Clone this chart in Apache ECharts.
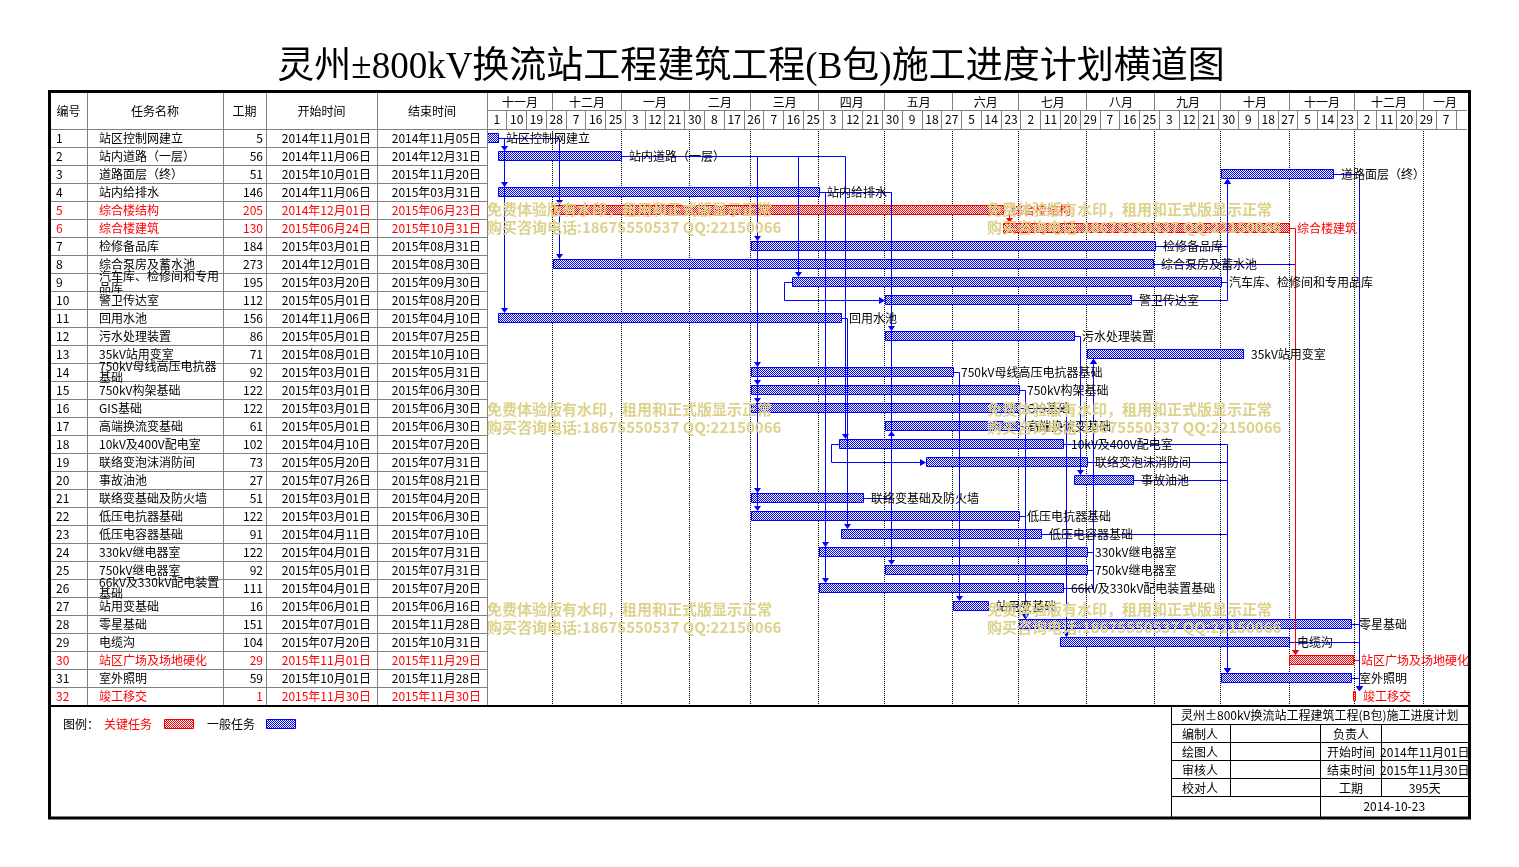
<!DOCTYPE html>
<html><head><meta charset="utf-8">
<script src="https://cdn.jsdelivr.net/npm/echarts@6/dist/echarts.min.js"></script>
<style>html,body{margin:0;padding:0;background:#fff}#c{width:1519px;height:867px}</style>
</head><body><div id="c"></div>
<script>
// ---------------- DATA ----------------
const chartTitle = '灵州±800kV换流站工程建筑工程(B包)施工进度计划横道图';
const taskIds = [1,2,3,4,5,6,7,8,9,10,11,12,13,14,15,16,17,18,19,20,21,22,23,24,25,26,27,28,29,30,31,32];
const taskNames = ['站区控制网建立','站内道路（一层）','道路面层（终）','站内给排水','综合楼结构','综合楼建筑','检修备品库','综合泵房及蓄水池','汽车库、检修间和专用品库','警卫传达室','回用水池','污水处理装置','35kV站用变室','750kV母线高压电抗器基础','750kV构架基础','GIS基础','高端换流变基础','10kV及400V配电室','联络变泡沫消防间','事故油池','联络变基础及防火墙','低压电抗器基础','低压电容器基础','330kV继电器室','750kV继电器室','66kV及330kV配电装置基础','站用变基础','零星基础','电缆沟','站区广场及场地硬化','室外照明','竣工移交'];
const durations = [5,56,51,146,205,130,184,273,195,112,156,86,71,92,122,122,61,102,73,27,51,122,91,122,92,111,16,151,104,29,59,1];
const startDates = ['2014-11-01','2014-11-06','2015-10-01','2014-11-06','2014-12-01','2015-06-24','2015-03-01','2014-12-01','2015-03-20','2015-05-01','2014-11-06','2015-05-01','2015-08-01','2015-03-01','2015-03-01','2015-03-01','2015-05-01','2015-04-10','2015-05-20','2015-07-26','2015-03-01','2015-03-01','2015-04-11','2015-04-01','2015-05-01','2015-04-01','2015-06-01','2015-07-01','2015-07-20','2015-11-01','2015-10-01','2015-11-30'];
const endDates = ['2014-11-05','2014-12-31','2015-11-20','2015-03-31','2015-06-23','2015-10-31','2015-08-31','2015-08-30','2015-09-30','2015-08-20','2015-04-10','2015-07-25','2015-10-10','2015-05-31','2015-06-30','2015-06-30','2015-06-30','2015-07-20','2015-07-31','2015-08-21','2015-04-20','2015-06-30','2015-07-10','2015-07-31','2015-07-31','2015-07-20','2015-06-16','2015-11-28','2015-10-31','2015-11-29','2015-11-28','2015-11-30'];
const criticalTasks = [5,6,30,32];
// finish-to-start links [pred, succ]
const fsLinks = [[30,32],[1,2],[1,4],[1,11],[1,5],[1,8],[2,7],[2,9],[2,14],[2,15],[2,16],[2,21],[2,22],[2,18],[4,24],[4,26],[4,12],[4,25],[11,23],[21,17],[8,30],[7,3],[9,3],[10,3],[18,31],[19,31],[20,31],[23,31],[12,20],[14,27],[15,28],[22,28],[27,28],[16,29],[17,29],[24,13],[25,13],[26,13],[3,32],[28,32],[29,32],[31,32],[5,6],[6,30]];
// start-to-start links [pred, succ]
const ssLinks = [[9,10],[18,19]];
const axisStartDate = '2014-11-01';
const axisEndDate = '2016-01-21';
const monthStarts = ['2014-11-01','2014-12-01','2015-01-01','2015-02-01','2015-03-01','2015-04-01','2015-05-01','2015-06-01','2015-07-01','2015-08-01','2015-09-01','2015-10-01','2015-11-01','2015-12-01','2016-01-01'];
const monthLabels = ['十一月','十二月','一月','二月','三月','四月','五月','六月','七月','八月','九月','十月','十一月','十二月','一月'];
const dayTickStep = 9;
const dayTickLabels = ['1','10','19','28','7','16','25','3','12','21','30','8','17','26','7','16','25','3','12','21','30','9','18','27','5','14','23','2','11','20','29','7','16','25','3','12','21','30','9','18','27','5','14','23','2','11','20','29','7'];
const tableHeaders = ['编号','任务名称','工期','开始时间','结束时间'];
const infoTitle = '灵州±800kV换流站工程建筑工程(B包)施工进度计划';
const infoRows = [['编制人','负责人',''],['绘图人','开始时间','2014年11月01日'],['审核人','结束时间','2015年11月30日'],['校对人','工期','395天']];
const infoDate = '2014-10-23';
const legendLabels = ['图例：','关键任务','一般任务'];
const watermarkLines = ['免费体验版有水印，租用和正式版显示正常','购买咨询电话:18675550537 QQ:22150066'];

// ---------------- HELPERS ----------------
const FONT = '"Noto Sans CJK SC","Noto Sans",sans-serif';
const BLUE = '#0000ff', RED = '#ff0000', GRAY = '#808080';
function dayIndex(s){
  const p = s.split('-').map(Number);
  return Math.round((Date.UTC(p[0],p[1]-1,p[2]) - Date.UTC(2014,10,1))/86400000);
}
function cn(s){ const p = s.split('-'); return p[0]+'年'+p[1]+'月'+p[2]+'日'; }
function px(v){ return Math.floor(v) + 0.5; }
function makePattern(color){
  const c = document.createElement('canvas'); c.width = 2; c.height = 2;
  const ctx = c.getContext('2d');
  ctx.fillStyle = '#ffffff'; ctx.fillRect(0,0,2,2);
  ctx.fillStyle = color; ctx.fillRect(0,0,1,1); ctx.fillRect(1,1,1,1);
  return {image: c, repeat: 'repeat'};
}
const bluePat = makePattern(BLUE), redPat = makePattern(RED);
const isCrit = id => criticalTasks.indexOf(id) >= 0;
const sDay = startDates.map(dayIndex);
const eDay = endDates.map(d => dayIndex(d) + 1);
const axisMin = dayIndex(axisStartDate), axisMax = dayIndex(axisEndDate);

// layout constants
const G_LEFT = 487, G_TOP = 129, G_W = 980, ROW_H = 18;
const G_H = ROW_H * taskIds.length;
const HDR_TOP = 93, HDR_MID = 110, HDR_BOT = 129;
const T_LEFT = 50, T_W = 437;
const colEdges = [37, 173, 216, 327];
const BAR_H = 9;

// ---------------- SERIES DATA ----------------
const taskData = taskIds.map((id,i) => [sDay[i], eDay[i], i, isCrit(id) ? 1 : 0]);
const linkData = [];
fsLinks.forEach(([p,s]) => linkData.push([sDay[p-1], eDay[p-1], p-1, sDay[s-1], s-1, (isCrit(p)&&isCrit(s))?1:0, 0]));
ssLinks.forEach(([p,s]) => linkData.push([sDay[p-1], eDay[p-1], p-1, sDay[s-1], s-1, (isCrit(p)&&isCrit(s))?1:0, 1]));
const monthData = monthStarts.map((m,i) => [dayIndex(m), i < monthStarts.length-1 ? dayIndex(monthStarts[i+1]) : axisMax, 0]);
const dayCells = dayTickLabels.map((l,i) => [axisMin + i*dayTickStep, Math.min(axisMin + (i+1)*dayTickStep, axisMax), 0]);
dayCells.push([axisMin + dayTickLabels.length*dayTickStep, axisMax, 0]);
const tableData = taskIds.map((id,i) => [0, i]);

const chart = echarts.init(document.getElementById('c'), null, {renderer:'canvas'});

const series = [
  {type:'custom', xAxisIndex:0, yAxisIndex:0, z:1, silent:true,
   data: monthData.slice(1).map(d => [d[0], d[0], 0]), encode:{x:[0,1], y:2},
   renderItem(params, api){
     const x = px(api.coord([api.value(0), 0])[0]);
     return {type:'line', shape:{x1:x, y1:G_TOP, x2:x, y2:G_TOP+G_H}, style:{stroke:'#000', lineWidth:1, lineDash:[1,1]}};
   }},
  {type:'custom', xAxisIndex:0, yAxisIndex:0, z:3, silent:true,
   data: monthData, encode:{x:[0,1], y:2},
   renderItem(params, api){
     const x0 = api.coord([api.value(0), 0])[0];
     const x1 = api.coord([api.value(1), 0])[0];
     const ch = [{type:'text', style:{text: monthLabels[params.dataIndex], x:(x0+x1)/2, y:(HDR_TOP+HDR_MID)/2+0.5, align:'center', verticalAlign:'middle', font:'12px '+FONT, fill:'#000'}}];
     if (params.dataIndex < monthData.length-1) ch.push({type:'line', shape:{x1:px(x1), y1:HDR_TOP, x2:px(x1), y2:HDR_MID}, style:{stroke:GRAY, lineWidth:1}});
     return {type:'group', children: ch};
   }},
  {type:'custom', xAxisIndex:0, yAxisIndex:0, z:3, silent:true,
   data: dayCells, encode:{x:[0,1], y:2},
   renderItem(params, api){
     const x0 = api.coord([api.value(0), 0])[0];
     const x1 = api.coord([api.value(1), 0])[0];
     const ch = [];
     const lab = dayTickLabels[params.dataIndex];
     if (lab) ch.push({type:'text', style:{text: lab, x:(x0+x1)/2, y:(HDR_MID+HDR_BOT)/2, align:'center', verticalAlign:'middle', font:'12px '+FONT, fill:'#000'}});
     if (params.dataIndex < dayCells.length-1) ch.push({type:'line', shape:{x1:px(x1), y1:HDR_MID, x2:px(x1), y2:HDR_BOT}, style:{stroke:GRAY, lineWidth:1}});
     return {type:'group', children: ch};
   }},
  {type:'custom', xAxisIndex:1, yAxisIndex:1, z:3, silent:true,
   data: tableData, encode:{x:0, y:1},
   renderItem(params, api){
     const i = params.dataIndex;
     const c = api.coord([0, i]);
     const y = c[1];
     const x = (v) => api.coord([v, i])[0];
     const col = isCrit(taskIds[i]) ? RED : '#000';
     const f = '12px '+FONT;
     return {type:'group', children:[
       {type:'line', shape:{x1:T_LEFT, y1:px(y+ROW_H/2), x2:T_LEFT+T_W, y2:px(y+ROW_H/2)}, style:{stroke:GRAY, lineWidth:1}},
       {type:'text', style:{text:String(taskIds[i]), x:x(6), y:y, verticalAlign:'middle', font:f, fill:col}},
       {type:'text', style:{text:taskNames[i], x:x(49), y:y, verticalAlign:'middle', font:f, fill:col, width:124, overflow:'break', lineHeight:11}},
       {type:'text', style:{text:String(durations[i]), x:x(213), y:y, align:'right', verticalAlign:'middle', font:f, fill:col}},
       {type:'text', style:{text:cn(startDates[i]), x:x(321), y:y, align:'right', verticalAlign:'middle', font:f, fill:col}},
       {type:'text', style:{text:cn(endDates[i]), x:x(431), y:y, align:'right', verticalAlign:'middle', font:f, fill:col}}
     ]};
   }},
  {type:'custom', xAxisIndex:0, yAxisIndex:0, z:4, silent:true,
   data: taskData, encode:{x:[0,1], y:2},
   renderItem(params, api){
     const s = api.coord([api.value(0), api.value(2)]);
     const e = api.coord([api.value(1), api.value(2)]);
     const crit = api.value(3);
     const x0 = Math.round(s[0]), x1 = Math.round(e[0]);
     return {type:'rect', shape:{x:x0+0.5, y:Math.floor(s[1]-5)+0.5, width:Math.max(2, x1-x0), height:BAR_H},
             style:{fill: crit ? redPat : bluePat, stroke: crit ? RED : BLUE, lineWidth:1}};
   }},
  {type:'custom', xAxisIndex:0, yAxisIndex:0, z:5, silent:true,
   data: linkData, encode:{x:[0,1,3], y:[2,4]},
   renderItem(params, api){
     const ps = api.value(0), pe = api.value(1), pr = api.value(2), ss = api.value(3), sr = api.value(4);
     const color = api.value(5) ? RED : BLUE;
     const type = api.value(6);
     const ls = {stroke:color, lineWidth:1, fill:null};
     const b = api.coord([ss, sr]);
     const by = px(b[1]);
     if (type === 0) {
       const a = api.coord([pe, pr]);
       const ay = px(a[1]);
       const dx = Math.round(b[0]) + 6.5;
       const down = sr > pr;
       const tip = down ? Math.floor(b[1]-5) : Math.floor(b[1]-5) + BAR_H + 1;
       const base = down ? tip - 5 : tip + 5;
       return {type:'group', children:[
         {type:'polyline', shape:{points:[[Math.round(a[0]), ay],[dx, ay],[dx, base]]}, style:ls},
         {type:'polygon', shape:{points:[[dx-3.5, base],[dx+3.5, base],[dx, tip]]}, style:{fill:color, stroke:null}}
       ]};
     } else {
       const a = api.coord([ps, pr]);
       const ay = px(a[1]);
       const xl = Math.round(a[0]) - 7.5;
       const tx = Math.round(b[0]);
       return {type:'group', children:[
         {type:'polyline', shape:{points:[[Math.round(a[0]), ay],[xl, ay],[xl, by],[tx-5, by]]}, style:ls},
         {type:'polygon', shape:{points:[[tx-6, by-3.5],[tx-6, by+3.5],[tx, by]]}, style:{fill:color, stroke:null}}
       ]};
     }
   }},
  {type:'custom', xAxisIndex:0, yAxisIndex:0, z:6, silent:true,
   data: taskData, encode:{x:[0,1], y:2},
   renderItem(params, api){
     const e = api.coord([api.value(1), api.value(2)]);
     return {type:'text', style:{text: taskNames[params.dataIndex], x: Math.round(e[0]) + 8, y: e[1] + 0.5, verticalAlign:'middle', font:'12px '+FONT, fill: api.value(3) ? RED : '#000'}};
   }}
];

// ---------------- GRAPHICS (static layout) ----------------
const g = [];
const gl = (x1,y1,x2,y2,stroke,lw,z) => g.push({type:'line', z:z||50, silent:true, shape:{x1,y1,x2,y2}, style:{stroke:stroke||GRAY, lineWidth:lw||1}});
const gt = (text,x,y,opt) => g.push({type:'text', z:(opt&&opt.z)||60, silent:true, style:Object.assign({text, x, y, font:'12px '+FONT, fill:'#000', textAlign:'left', textVerticalAlign:'middle'}, opt||{})});

gt(chartTitle, 751, 68, {font:'37px "Liberation Serif","Noto Sans CJK SC",serif', textAlign:'center'});
const colAbs = [T_LEFT+colEdges[0], T_LEFT+colEdges[1], T_LEFT+colEdges[2], T_LEFT+colEdges[3], G_LEFT];
colAbs.forEach(x => gl(px(x), HDR_TOP, px(x), G_TOP+G_H));
gl(T_LEFT, px(HDR_BOT), G_LEFT+G_W, px(HDR_BOT));
gl(G_LEFT, px(HDR_MID), G_LEFT+G_W, px(HDR_MID));
const colBounds = [T_LEFT].concat(colAbs);
tableHeaders.forEach((h,i) => gt(h, (colBounds[i]+colBounds[i+1])/2, 111.5, {textAlign:'center'}));
gl(50, 706, 1468, 706, '#000', 2, 70);
gt(legendLabels[0], 63, 724.5);
gt(legendLabels[1], 104, 724.5, {fill:RED});
g.push({type:'rect', z:60, silent:true, shape:{x:164.5, y:719.5, width:29, height:9}, style:{fill:redPat, stroke:RED, lineWidth:1}});
gt(legendLabels[2], 207, 724.5);
g.push({type:'rect', z:60, silent:true, shape:{x:266.5, y:719.5, width:29, height:9}, style:{fill:bluePat, stroke:BLUE, lineWidth:1}});
const IB = {l:1171.5, r:1468, c1:1230.5, c2:1320.5, c3:1381.5, rows:[706, 724.5, 742.5, 760.5, 778.5, 796.5, 817]};
gl(IB.l, 706, IB.l, 817, '#000');
for (let k=1;k<=5;k++) gl(IB.l, IB.rows[k], IB.r, IB.rows[k], '#000');
gl(IB.c1, IB.rows[1], IB.c1, IB.rows[5], '#000');
gl(IB.c2, IB.rows[1], IB.c2, 817, '#000');
gl(IB.c3, IB.rows[1], IB.c3, IB.rows[5], '#000');
gt(infoTitle, (IB.l+IB.r)/2, 715.5, {textAlign:'center'});
infoRows.forEach((r,k) => {
  const yc = (IB.rows[k+1]+IB.rows[k+2])/2 + 0.5;
  gt(r[0], 1182, yc);
  gt(r[1], (IB.c2+IB.c3)/2, yc, {textAlign:'center'});
  if (r[2]) gt(r[2], (IB.c3+IB.r)/2, yc, {textAlign:'center'});
});
gt(infoDate, (IB.c2+IB.r)/2, 806.5, {textAlign:'center'});
[209, 409, 609].forEach(y => [487, 987].forEach(x => {
  gt(watermarkLines[0], x, y, {font:'bold 15px '+FONT, fill:'#dcd28c', z:80});
  gt(watermarkLines[1], x, y+18, {font:'bold 15px '+FONT, fill:'#dcd28c', z:80});
}));
g.push({type:'rect', z:100, silent:true, shape:{x:49.5, y:91.5, width:1420, height:726.5}, style:{fill:null, stroke:'#000', lineWidth:3}});

chart.setOption({
  animation:false,
  backgroundColor:'#fff',
  grid:[{left:G_LEFT, top:G_TOP, width:G_W, height:G_H}, {left:T_LEFT, top:G_TOP, width:T_W, height:G_H}],
  xAxis:[{type:'value', gridIndex:0, min:axisMin, max:axisMax, show:false, splitLine:{show:false}},
         {type:'value', gridIndex:1, min:0, max:T_W, show:false, splitLine:{show:false}}],
  yAxis:[{type:'category', gridIndex:0, data:taskIds.map(String), inverse:true, show:false},
         {type:'category', gridIndex:1, data:taskIds.map(String), inverse:true, show:false}],
  series: series,
  graphic: {elements: g}
});
</script></body></html>
